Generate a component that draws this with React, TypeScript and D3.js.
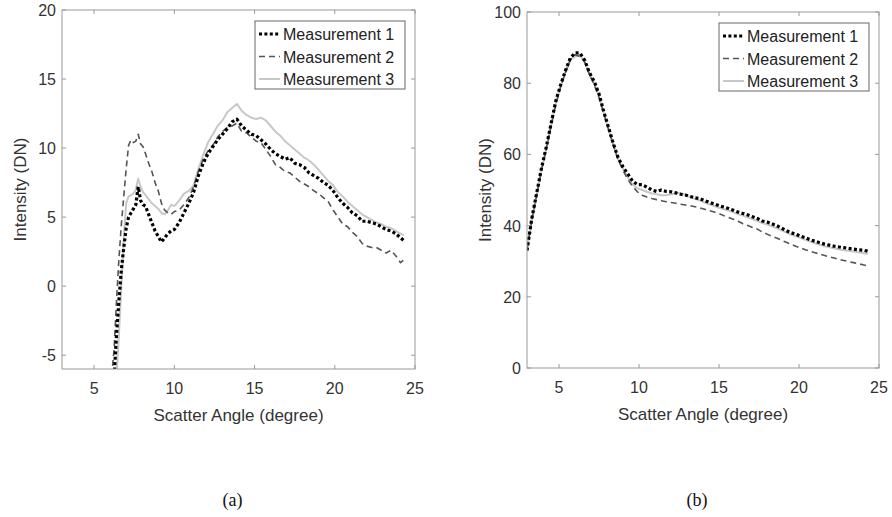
import React, { useEffect, useRef } from "react";
import * as d3 from "d3";

// panel (a): scatter angle grid and the three measurements
const anglesA = [
  6.1, 6.25, 6.4, 6.55, 6.7, 6.85, 7.0, 7.15, 7.3, 7.45,
  7.6, 7.75, 7.9, 8.05, 8.2, 8.4, 8.6, 8.8, 9.0, 9.2,
  9.4, 9.6, 9.8, 10.0, 10.3, 10.6, 10.9, 11.2, 11.5, 11.8,
  12.1, 12.4, 12.7, 13.0, 13.3, 13.6, 13.9, 14.2, 14.5, 14.8,
  15.1, 15.4, 15.7, 16.0, 16.3, 16.6, 16.9, 17.2, 17.5, 17.8,
  18.1, 18.4, 18.7, 19.0, 19.3, 19.6, 19.9, 20.2, 20.5, 20.8,
  21.1, 21.4, 21.7, 22.0, 22.3, 22.6, 22.9, 23.2, 23.5, 23.8,
  24.1, 24.3,
];
const meas1A = [
  null, -6.5, -3.5, -1, 1.2, 2.8, 4.2, 5.0, 5.3, 5.6,
  5.9, 7.2, 6.2, 5.9, 5.8, 5.2, 4.6, 4.0, 3.6, 3.2,
  3.5, 3.8, 4.0, 4.1, 4.6, 5.3, 6.0, 6.8, 8.0, 8.9,
  9.6, 10.1, 10.6, 11.0, 11.4, 11.9, 12.1, 11.6, 11.3, 11.0,
  10.9, 10.6, 10.3, 9.9, 9.6, 9.4, 9.2, 9.3, 8.9, 8.8,
  8.6, 8.2, 8.0, 7.8, 7.5, 7.3, 6.9, 6.4, 6.0, 5.7,
  5.3, 5.1, 4.7, 4.7, 4.6, 4.5, 4.3, 4.1, 4.0, 3.8,
  3.5, 3.3,
];
const meas2A = [
  -6.5, -4.5, -1.0, 2.0, 4.5, 6.5, 8.5, 10.2, 10.6, 10.4,
  10.5, 11.0, 10.3, 10.1, 9.6, 8.9, 8.3, 7.5, 6.9, 6.0,
  5.5, 5.3, 5.2, 5.4, 5.5, 5.9, 6.4, 7.2, 8.3, 9.2,
  9.8, 10.2, 10.8, 11.2, 11.5, 11.6, 11.8, 11.2, 11.1, 10.8,
  10.5, 10.4, 9.9, 9.4, 8.8, 8.6, 8.3, 8.2, 7.9, 7.6,
  7.4, 7.2, 6.9, 6.7, 6.4, 6.1, 5.5, 5.0, 4.5, 4.3,
  3.9, 3.6, 3.1, 2.9, 2.8, 2.8, 2.6, 2.4, 2.6, 2.2,
  1.7, 1.9,
];
const meas3A = [
  null, null, -6.5, -3.5, 0, 3.5, 6.0, 6.5, 6.6, 6.7,
  7.0, 7.8, 7.2, 6.8, 6.6, 6.3, 6.0, 5.8, 5.6, 5.3,
  5.2, 5.5, 5.9, 5.8, 6.2, 6.7, 6.9, 7.3, 8.5, 9.5,
  10.4, 11.0, 11.6, 12.0, 12.6, 12.9, 13.2, 12.7, 12.4, 12.2,
  12.1, 12.2, 12.0, 11.6, 11.2, 10.9, 10.5, 10.2, 9.9, 9.6,
  9.3, 9.1, 8.8, 8.4, 8.0, 7.6, 7.3, 6.8, 6.5, 6.1,
  5.8, 5.5, 5.2, 5.0, 4.8, 4.6, 4.5, 4.3, 4.2, 4.0,
  3.8, 3.7,
];

// panel (b)
const anglesB = [
  3.0, 3.3, 3.6, 3.9, 4.2, 4.5, 4.8, 5.1, 5.4, 5.7,
  6.0, 6.3, 6.6, 6.9, 7.2, 7.5, 7.8, 8.1, 8.4, 8.7,
  9.0, 9.3, 9.6, 9.9, 10.2, 10.5, 10.8, 11.1, 11.4, 11.7,
  12.0, 12.3, 12.6, 12.9, 13.2, 13.5, 13.8, 14.1, 14.4, 14.7,
  15.0, 15.3, 15.6, 15.9, 16.2, 16.5, 16.8, 17.1, 17.4, 17.7,
  18.0, 18.3, 18.6, 18.9, 19.2, 19.5, 19.8, 20.1, 20.4, 20.7,
  21.0, 21.3, 21.6, 21.9, 22.2, 22.5, 22.8, 23.1, 23.4, 23.7,
  24.0, 24.3,
];
const meas1B = [
  33, 42, 49, 56, 62, 68.5, 75, 79.5, 83.5, 87,
  88.5, 88.5, 86.5, 83, 80.5, 77, 72, 67.5, 63, 59,
  56.5, 54.5, 52.5, 51.5, 51.5, 50.8, 50, 49.6, 50, 49.6,
  49.5, 49.2, 48.8, 48.6, 48.2, 47.8, 47.6, 47, 46.5, 46.1,
  45.6, 45.2, 44.8, 44.3, 43.8, 43.4, 43, 42.5, 42, 41.3,
  41, 40.5, 40, 39.3, 38.6, 38, 37.6, 37, 36.6, 36,
  35.6, 35.2, 34.8, 34.5, 34.2, 34, 33.8, 33.6, 33.4, 33.2,
  33.1, 32.8,
];
const meas2B = [
  33.5, 41.5, 48.5, 55.5, 61.5, 68, 74, 79, 83, 86.5,
  88, 87.5, 86, 82.5, 79.5, 76, 71.5, 67, 62.5, 58.5,
  55.5, 53, 51, 49.5, 48.5, 48, 47.6, 47.3, 47, 46.7,
  46.5, 46.3, 46, 45.8, 45.6, 45.3, 45, 44.6, 44.2, 43.8,
  43.4, 42.8, 42.3, 41.8, 41.2, 40.5, 40, 39.5, 39, 38.2,
  37.6, 37, 36.5, 35.9, 35.3, 34.8, 34.2, 33.7, 33.2, 32.8,
  32.4, 32, 31.6, 31.2, 30.9, 30.5, 30.2, 29.9, 29.6, 29.3,
  29, 28.7,
];
const meas3B = [
  33, 41.5, 48.5, 55.5, 61.5, 68, 74.5, 79, 83, 86.5,
  87.5, 88, 86, 82.5, 80, 76.5, 71.5, 67, 62.5, 58.5,
  56, 53.5, 51.5, 50.5, 50, 49.5, 49, 48.8, 48.5, 48.5,
  48.8, 49, 49.2, 48.6, 48, 47.5, 47, 46.5, 46, 45.5,
  45, 44.6, 44.2, 43.7, 43.2, 42.8, 42.3, 41.8, 41.3, 40.7,
  40.3, 39.8, 39.3, 38.7, 38.1, 37.5, 37, 36.5, 36, 35.5,
  35, 34.6, 34.2, 33.9, 33.6, 33.3, 33.1, 32.9, 32.7, 32.5,
  32.3, 32,
];

const xTicks = [5, 10, 15, 20, 25];
const yTicksA = [-5, 0, 5, 10, 15, 20];
const yTicksB = [0, 20, 40, 60, 80, 100];
const seriesNames = ["Measurement 1", "Measurement 2", "Measurement 3"];

const styles = [
  { stroke: "#000", width: 3.2, dash: "3,2.4" },
  { stroke: "#555", width: 1.6, dash: "6,4" },
  { stroke: "#c8c8c8", width: 2, dash: null },
];

const FONT = "'Liberation Sans', Arial, sans-serif";

type PanelProps = {
  id: string;
  box: { left: number; right: number; top: number; bottom: number };
  yDomain: [number, number];
  yTicks: number[];
  angles: number[];
  series: (number | null)[][];
  caption: string;
};

function drawPanel(svg: d3.Selection<SVGSVGElement, unknown, null, undefined>, p: PanelProps) {
  const { left, right, top, bottom } = p.box;
  const x = d3.scaleLinear().domain([3, 25]).range([left, right]);
  const y = d3.scaleLinear().domain(p.yDomain).range([bottom, top]);
  const g = svg.append("g");

  g.append("clipPath")
    .attr("id", "clip-" + p.id)
    .append("rect")
    .attr("x", left)
    .attr("y", top)
    .attr("width", right - left)
    .attr("height", bottom - top);

  // curves, light one first so the black dots sit on top
  const order = [2, 1, 0];
  order.forEach((i) => {
    const pts = p.angles.map((a, j) => [a, p.series[i][j]] as [number, number | null]);
    const line = d3
      .line<[number, number | null]>()
      .defined((d) => d[1] !== null)
      .x((d) => x(d[0]))
      .y((d) => y(d[1] as number));
    g.append("path")
      .attr("clip-path", `url(#clip-${p.id})`)
      .attr("d", line(pts))
      .attr("fill", "none")
      .attr("stroke", styles[i].stroke)
      .attr("stroke-width", styles[i].width)
      .attr("stroke-dasharray", styles[i].dash)
      .attr("stroke-linejoin", "round");
  });

  // box with inward ticks on all sides
  g.append("rect")
    .attr("x", left)
    .attr("y", top)
    .attr("width", right - left)
    .attr("height", bottom - top)
    .attr("fill", "none")
    .attr("stroke", "#999")
    .attr("stroke-width", 1);

  const tl = 4;
  xTicks.forEach((t) => {
    const px = x(t);
    g.append("line").attr("x1", px).attr("x2", px).attr("y1", bottom).attr("y2", bottom - tl).attr("stroke", "#999");
    g.append("line").attr("x1", px).attr("x2", px).attr("y1", top).attr("y2", top + tl).attr("stroke", "#999");
    g.append("text")
      .attr("x", px)
      .attr("y", bottom + 25)
      .attr("text-anchor", "middle")
      .attr("font-family", FONT)
      .attr("font-size", 16)
      .attr("fill", "#333")
      .text(t);
  });
  p.yTicks.forEach((t) => {
    const py = y(t);
    g.append("line").attr("x1", left).attr("x2", left + tl).attr("y1", py).attr("y2", py).attr("stroke", "#999");
    g.append("line").attr("x1", right).attr("x2", right - tl).attr("y1", py).attr("y2", py).attr("stroke", "#999");
    g.append("text")
      .attr("x", left - 6)
      .attr("y", py + 6)
      .attr("text-anchor", "end")
      .attr("font-family", FONT)
      .attr("font-size", 16)
      .attr("fill", "#333")
      .text(t);
  });

  g.append("text")
    .attr("x", (left + right) / 2)
    .attr("y", bottom + 52)
    .attr("text-anchor", "middle")
    .attr("font-family", FONT)
    .attr("font-size", 17)
    .attr("fill", "#333")
    .text("Scatter Angle (degree)");

  g.append("text")
    .attr("transform", `translate(${left - 36},${(top + bottom) / 2}) rotate(-90)`)
    .attr("text-anchor", "middle")
    .attr("font-family", FONT)
    .attr("font-size", 17)
    .attr("fill", "#333")
    .text("Intensity (DN)");

  // legend
  const lx = right - 160;
  const ly = top + 11;
  g.append("rect")
    .attr("x", lx)
    .attr("y", ly)
    .attr("width", 150)
    .attr("height", 68)
    .attr("fill", "#fff")
    .attr("stroke", "#666")
    .attr("stroke-width", 1);
  seriesNames.forEach((name, i) => {
    const cy = ly + 13 + i * 22.5;
    g.append("line")
      .attr("x1", lx + 4)
      .attr("x2", lx + 25)
      .attr("y1", cy)
      .attr("y2", cy)
      .attr("stroke", styles[i].stroke)
      .attr("stroke-width", styles[i].width)
      .attr("stroke-dasharray", styles[i].dash);
    g.append("text")
      .attr("x", lx + 28)
      .attr("y", cy + 6)
      .attr("font-family", FONT)
      .attr("font-size", 16)
      .attr("fill", "#222")
      .text(name);
  });

  g.append("text")
    .attr("x", (left + right) / 2 - 6)
    .attr("y", 506)
    .attr("text-anchor", "middle")
    .attr("font-family", "'Liberation Serif', 'Times New Roman', serif")
    .attr("font-size", 18)
    .attr("fill", "#111")
    .text(p.caption);
}

export default function App() {
  const ref = useRef<SVGSVGElement>(null);

  useEffect(() => {
    const svg = d3.select(ref.current as SVGSVGElement);
    svg.selectAll("*").remove();

    drawPanel(svg, {
      id: "a",
      box: { left: 62, right: 415, top: 10, bottom: 369 },
      yDomain: [-6, 20],
      yTicks: yTicksA,
      angles: anglesA,
      series: [meas1A, meas2A, meas3A],
      caption: "(a)",
    });
    drawPanel(svg, {
      id: "b",
      box: { left: 527, right: 879, top: 12, bottom: 368 },
      yDomain: [0, 100],
      yTicks: yTicksB,
      angles: anglesB,
      series: [meas1B, meas2B, meas3B],
      caption: "(b)",
    });
  }, []);

  return (
    <svg
      ref={ref}
      width={892}
      height={517}
      style={{ position: "absolute", left: 0, top: 0, background: "#fff" }}
    />
  );
}
